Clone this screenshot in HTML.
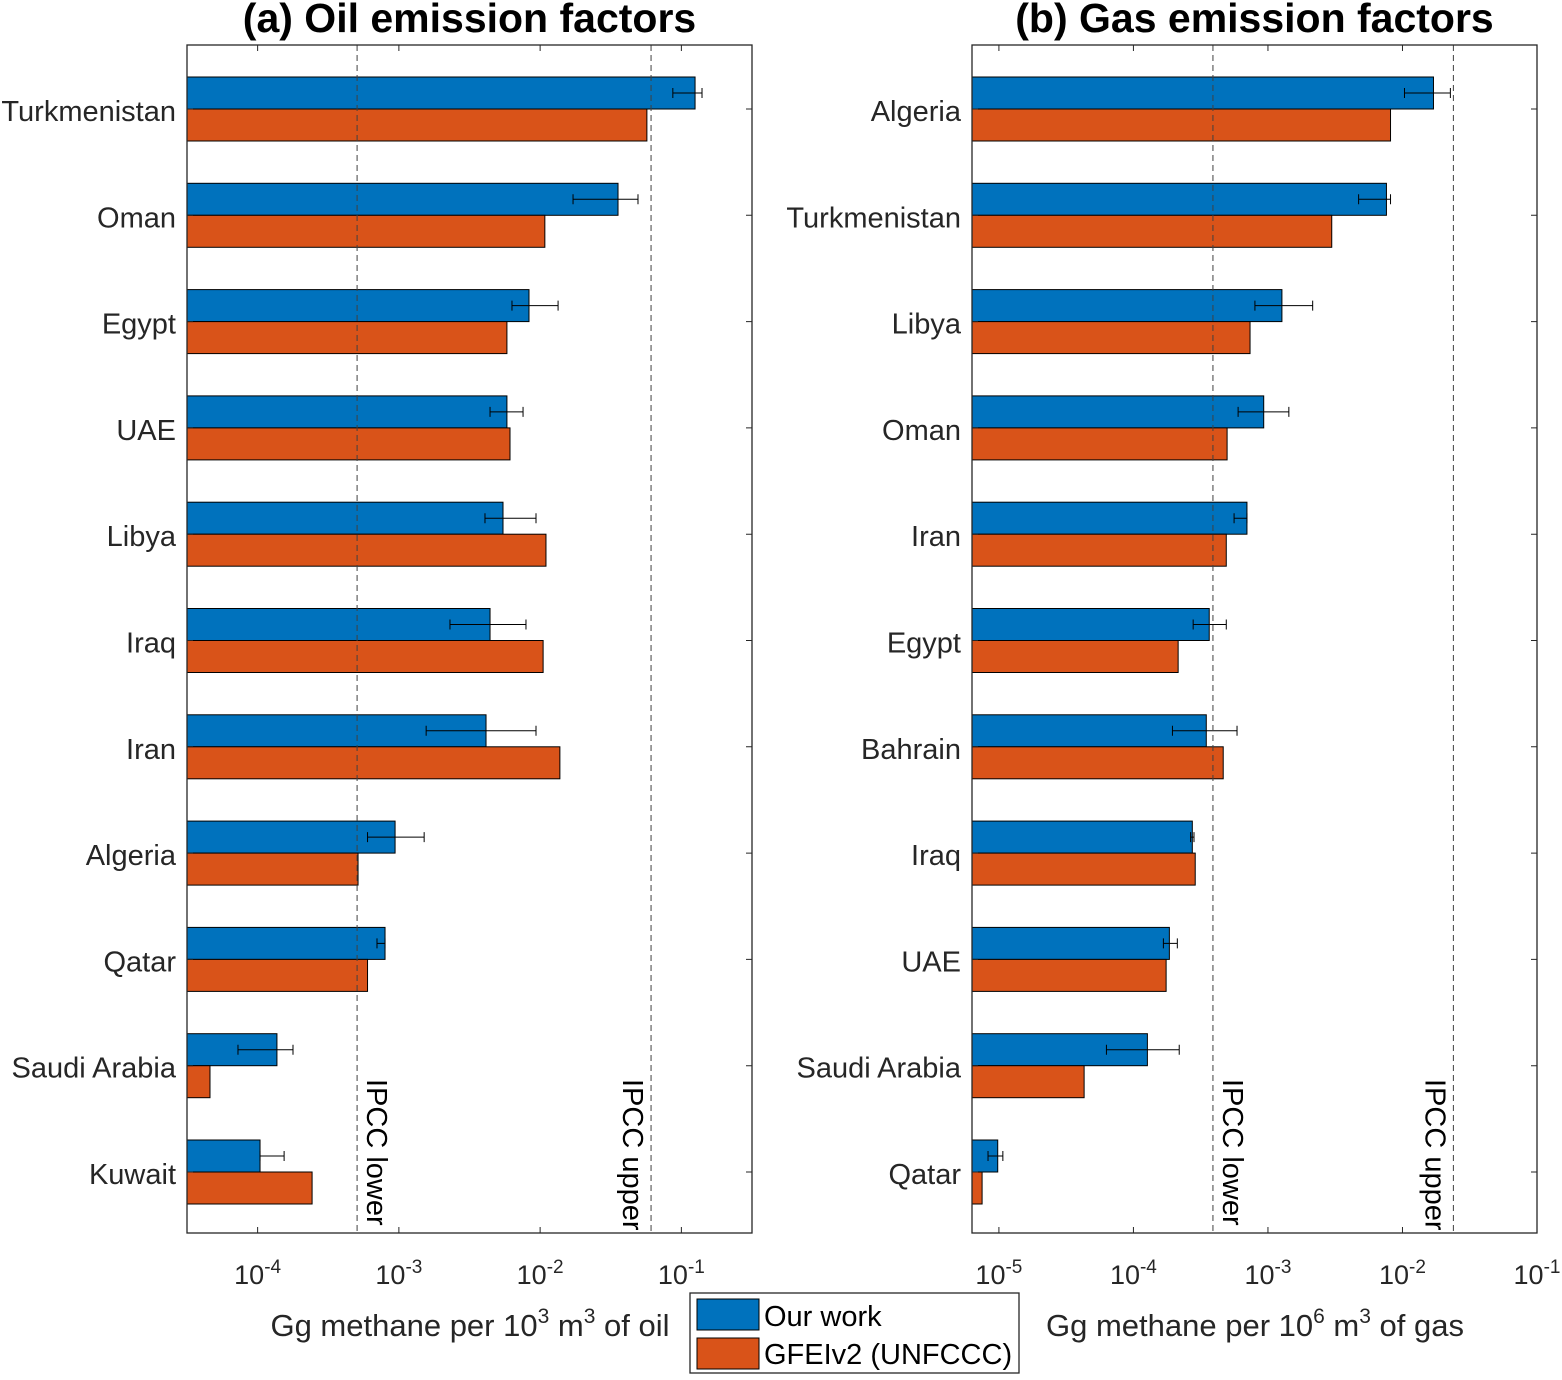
<!DOCTYPE html>
<html><head><meta charset="utf-8"><style>
body{margin:0;background:#fff}
svg text{font-family:"Liberation Sans",sans-serif}
</style></head><body>
<svg id="c" width="1562" height="1375" xmlns="http://www.w3.org/2000/svg"></svg>
<script>
const oilCountries=["Turkmenistan","Oman","Egypt","UAE","Libya","Iraq","Iran","Algeria","Qatar","Saudi Arabia","Kuwait"];
const oilOurs=[0.125,0.0356,0.00834,0.00582,0.00546,0.00442,0.00414,0.00094,0.000798,0.000137,0.000104];
const oilErrLo=[0.087,0.0171,0.00632,0.00442,0.00407,0.0023,0.00156,0.0006,0.0007,0.0000726,0.000104];
const oilErrHi=[0.14,0.0493,0.0134,0.00757,0.00935,0.00794,0.00935,0.00151,0.000798,0.000178,0.000154];
const oilGfei=[0.057,0.0108,0.00582,0.00612,0.011,0.0105,0.0138,0.000514,0.0006,0.000046,0.000243];
const oilIpcc=[0.000506,0.061];
const oilTicks=[-4,-3,-2,-1];
const gasCountries=["Algeria","Turkmenistan","Libya","Oman","Iran","Egypt","Bahrain","Iraq","UAE","Saudi Arabia","Qatar"];
const gasOurs=[0.017,0.0076,0.00127,0.00093,0.000698,0.000366,0.000348,0.000274,0.000185,0.000127,0.0000098];
const gasErrLo=[0.01035,0.00472,0.0008,0.0006,0.00056,0.000278,0.000195,0.000266,0.000167,0.000063,0.0000083];
const gasErrHi=[0.0227,0.00815,0.00215,0.00143,0.000698,0.00049,0.000589,0.000282,0.000212,0.000219,0.0000107];
const gasGfei=[0.00815,0.00298,0.000736,0.000497,0.00049,0.000215,0.000465,0.000288,0.000175,0.000043,0.0000075];
const gasIpcc=[0.00039,0.0239];
const gasTicks=[-5,-4,-3,-2,-1];

const svg=document.getElementById('c');const NS="http://www.w3.org/2000/svg";
function el(t,a,p){const e=document.createElementNS(NS,t);for(const k in a)e.setAttribute(k,a[k]);(p||svg).appendChild(e);return e;}
const TOP=45,BOT=1233,ROW0=109,ROWS=106.3;
function panel(cfg){
  const g=el('g',{});
  
  
  const X=v=>cfg.x0+(Math.log10(v)-cfg.lmin)/(cfg.lmax-cfg.lmin)*(cfg.x1-cfg.x0);
  const Y=i=>ROW0+i*ROWS;
  cfg.cats.forEach((c,i)=>{
    const y=Y(i);
    const b=el('rect',{x:cfg.x0,y:y-32,width:X(cfg.ours[i])-cfg.x0,height:32,fill:'#0072BD',stroke:'#000','stroke-width':1},g);
    
    
    const o=el('rect',{x:cfg.x0,y:y,width:X(cfg.gfei[i])-cfg.x0,height:32,fill:'#D95319',stroke:'#000','stroke-width':1},g);
    
    
    const ey=y-16,a=X(cfg.lo[i]),bb=X(cfg.hi[i]);
    const e=el('path',{d:`M${a},${ey}H${bb}M${a},${ey-5}V${ey+5}M${bb},${ey-5}V${ey+5}`,stroke:'#000','stroke-width':1,fill:'none'},g);
    
    
    const t=el('text',{x:cfg.x0-11,y:y+12,'text-anchor':'end','font-size':29,fill:'#262626'},g);t.textContent=c;
    
    
    el('path',{d:`M${cfg.x0},${y}h6M${cfg.x1},${y}h-6`,stroke:'#262626','stroke-width':1},g);
  });
  cfg.ipcc.forEach((v,k)=>{
    const x=X(v);
    const l=el('line',{x1:x,y1:TOP,x2:x,y2:BOT,stroke:'#404040','stroke-width':1,'stroke-dasharray':'6,4'},g);
    
    
    const tx=k?x-28:x+10;
    const t=el('text',{x:tx,y:1079,'font-size':29,fill:'#000',transform:`rotate(90 ${tx} 1079)`},g);
    t.textContent=k?'IPCC upper':'IPCC lower';
    
    
  });
  cfg.ticks.forEach(p=>{
    const x=X(Math.pow(10,p));
    el('path',{d:`M${x},${BOT}v-6M${x},${TOP}v6`,stroke:'#262626','stroke-width':1},g);
    const t=el('text',{x:x,y:1284,'text-anchor':'middle','font-size':27,fill:'#262626'},g);
    t.innerHTML=`10<tspan dy="-11" font-size="19">${p}</tspan>`;
    
    
  });
  el('rect',{x:cfg.x0,y:TOP,width:cfg.x1-cfg.x0,height:BOT-TOP,fill:'none',stroke:'#262626','stroke-width':1.3},g);
  const ti=el('text',{x:(cfg.x0+cfg.x1)/2,y:32,'text-anchor':'middle','font-size':41,'font-weight':'bold'},g);
  ti.textContent=cfg.title;
  
  
  const xl=el('text',{x:cfg.xlx,y:1336,'text-anchor':'middle','font-size':31,fill:'#262626'},g);
  xl.innerHTML=cfg.xlab;
  
  
}
panel({name:'oil-panel',x0:187,x1:752,lmin:-4.5,lmax:-0.5,cats:oilCountries,ours:oilOurs,lo:oilErrLo,hi:oilErrHi,gfei:oilGfei,ipcc:oilIpcc,ticks:oilTicks,title:'(a) Oil emission factors',xlx:470,xlab:'Gg methane per 10<tspan dy="-13" font-size="21">3</tspan><tspan dy="13"> m</tspan><tspan dy="-13" font-size="21">3</tspan><tspan dy="13"> of oil</tspan>'});
panel({name:'gas-panel',x0:972,x1:1537,lmin:-5.2,lmax:-1,cats:gasCountries,ours:gasOurs,lo:gasErrLo,hi:gasErrHi,gfei:gasGfei,ipcc:gasIpcc,ticks:gasTicks,title:'(b) Gas emission factors',xlx:1255,xlab:'Gg methane per 10<tspan dy="-13" font-size="21">6</tspan><tspan dy="13"> m</tspan><tspan dy="-13" font-size="21">3</tspan><tspan dy="13"> of gas</tspan>'});
const lg=el('g',{});


el('rect',{x:690,y:1293,width:329,height:80,fill:'#fff',stroke:'#262626','stroke-width':1.3},lg);
el('rect',{x:697,y:1299,width:62,height:31,fill:'#0072BD',stroke:'#000'},lg);
el('rect',{x:697,y:1338,width:62,height:31,fill:'#D95319',stroke:'#000'},lg);
const l1=el('text',{x:764,y:1326,'font-size':29},lg);l1.textContent='Our work';


const l2=el('text',{x:764,y:1364,'font-size':29},lg);l2.textContent='GFEIv2 (UNFCCC)';


</script>
</body></html>
